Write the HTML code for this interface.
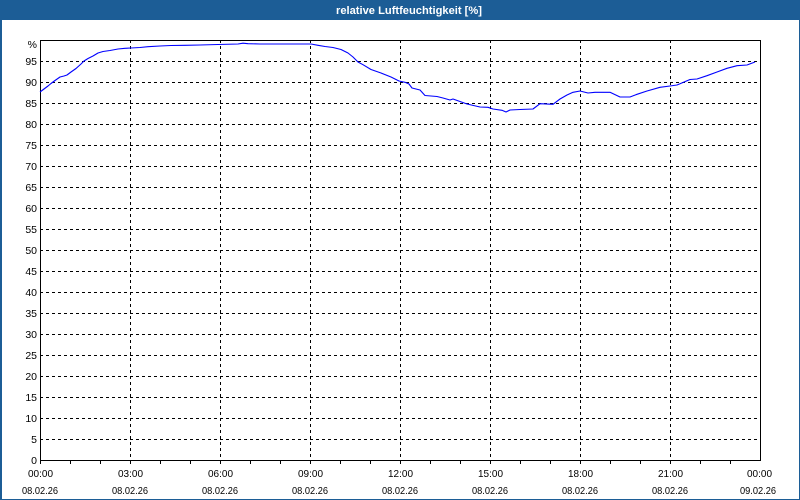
<!DOCTYPE html>
<html>
<head>
<meta charset="utf-8">
<style>
html,body{margin:0;padding:0;background:#fff;}
svg{display:block;}
text{font-family:"Liberation Sans",Tahoma,sans-serif;fill:#000;}
</style>
</head>
<body>
<svg width="800" height="500" viewBox="0 0 800 500" xmlns="http://www.w3.org/2000/svg">
  <rect x="0" y="0" width="800" height="500" fill="#ffffff"/>
  <!-- title bar -->
  <rect x="0" y="0" width="800" height="20" fill="#1c5d96"/>
  <text x="336" y="14" font-size="11" font-weight="bold" style="fill:#fff" textLength="146" lengthAdjust="spacingAndGlyphs">relative Luftfeuchtigkeit [%]</text>
  <!-- outer border -->
  <rect x="0" y="20" width="2" height="480" fill="#1c5d96"/>
  <rect x="799" y="20" width="1" height="480" fill="#1c5d96"/>
  <rect x="0" y="499" width="800" height="1" fill="#1c5d96"/>

  <!-- grid -->
  <g stroke="#000" stroke-width="1" stroke-dasharray="3,3" shape-rendering="crispEdges" fill="none">
    <line x1="40" x2="760" y1="61.5" y2="61.5"/>
    <line x1="40" x2="760" y1="82.5" y2="82.5"/>
    <line x1="40" x2="760" y1="103.5" y2="103.5"/>
    <line x1="40" x2="760" y1="124.5" y2="124.5"/>
    <line x1="40" x2="760" y1="145.5" y2="145.5"/>
    <line x1="40" x2="760" y1="166.5" y2="166.5"/>
    <line x1="40" x2="760" y1="187.5" y2="187.5"/>
    <line x1="40" x2="760" y1="208.5" y2="208.5"/>
    <line x1="40" x2="760" y1="229.5" y2="229.5"/>
    <line x1="40" x2="760" y1="250.5" y2="250.5"/>
    <line x1="40" x2="760" y1="271.5" y2="271.5"/>
    <line x1="40" x2="760" y1="292.5" y2="292.5"/>
    <line x1="40" x2="760" y1="313.5" y2="313.5"/>
    <line x1="40" x2="760" y1="334.5" y2="334.5"/>
    <line x1="40" x2="760" y1="355.5" y2="355.5"/>
    <line x1="40" x2="760" y1="376.5" y2="376.5"/>
    <line x1="40" x2="760" y1="397.5" y2="397.5"/>
    <line x1="40" x2="760" y1="418.5" y2="418.5"/>
    <line x1="40" x2="760" y1="439.5" y2="439.5"/>
    <line x1="130.5" x2="130.5" y1="40" y2="460"/>
    <line x1="220.5" x2="220.5" y1="40" y2="460"/>
    <line x1="310.5" x2="310.5" y1="40" y2="460"/>
    <line x1="400.5" x2="400.5" y1="40" y2="460"/>
    <line x1="490.5" x2="490.5" y1="40" y2="460"/>
    <line x1="580.5" x2="580.5" y1="40" y2="460"/>
    <line x1="670.5" x2="670.5" y1="40" y2="460"/>
  </g>

  <!-- frame -->
  <rect x="40.5" y="40.5" width="720" height="420" fill="none" stroke="#000" stroke-width="1" shape-rendering="crispEdges"/>

  <!-- ticks -->
  <g stroke="#000" stroke-width="1" shape-rendering="crispEdges">
    <line x1="40.5" x2="40.5" y1="460" y2="464"/>
    <line x1="70.5" x2="70.5" y1="460" y2="464"/>
    <line x1="100.5" x2="100.5" y1="460" y2="464"/>
    <line x1="130.5" x2="130.5" y1="460" y2="464"/>
    <line x1="160.5" x2="160.5" y1="460" y2="464"/>
    <line x1="190.5" x2="190.5" y1="460" y2="464"/>
    <line x1="220.5" x2="220.5" y1="460" y2="464"/>
    <line x1="250.5" x2="250.5" y1="460" y2="464"/>
    <line x1="280.5" x2="280.5" y1="460" y2="464"/>
    <line x1="310.5" x2="310.5" y1="460" y2="464"/>
    <line x1="340.5" x2="340.5" y1="460" y2="464"/>
    <line x1="370.5" x2="370.5" y1="460" y2="464"/>
    <line x1="400.5" x2="400.5" y1="460" y2="464"/>
    <line x1="430.5" x2="430.5" y1="460" y2="464"/>
    <line x1="460.5" x2="460.5" y1="460" y2="464"/>
    <line x1="490.5" x2="490.5" y1="460" y2="464"/>
    <line x1="520.5" x2="520.5" y1="460" y2="464"/>
    <line x1="550.5" x2="550.5" y1="460" y2="464"/>
    <line x1="580.5" x2="580.5" y1="460" y2="464"/>
    <line x1="610.5" x2="610.5" y1="460" y2="464"/>
    <line x1="640.5" x2="640.5" y1="460" y2="464"/>
    <line x1="670.5" x2="670.5" y1="460" y2="464"/>
    <line x1="700.5" x2="700.5" y1="460" y2="464"/>
    <line x1="730.5" x2="730.5" y1="460" y2="464"/>
  </g>

  <!-- y labels -->
  <g font-size="10.5" text-anchor="end">
    <text x="37" y="48">%</text>
    <text x="37" y="65">95</text>
    <text x="37" y="86">90</text>
    <text x="37" y="107">85</text>
    <text x="37" y="128">80</text>
    <text x="37" y="149">75</text>
    <text x="37" y="170">70</text>
    <text x="37" y="191">65</text>
    <text x="37" y="212">60</text>
    <text x="37" y="233">55</text>
    <text x="37" y="254">50</text>
    <text x="37" y="275">45</text>
    <text x="37" y="296">40</text>
    <text x="37" y="317">35</text>
    <text x="37" y="338">30</text>
    <text x="37" y="359">25</text>
    <text x="37" y="380">20</text>
    <text x="37" y="401">15</text>
    <text x="37" y="422">10</text>
    <text x="37" y="443">5</text>
    <text x="37" y="464">0</text>
  </g>

  <!-- x labels -->
  <g font-size="10.5">
    <text x="28" y="477" textLength="25" lengthAdjust="spacingAndGlyphs">00:00</text>
    <text x="22" y="494" textLength="36" lengthAdjust="spacingAndGlyphs">08.02.26</text>
    <text x="118" y="477" textLength="25" lengthAdjust="spacingAndGlyphs">03:00</text>
    <text x="112" y="494" textLength="36" lengthAdjust="spacingAndGlyphs">08.02.26</text>
    <text x="208" y="477" textLength="25" lengthAdjust="spacingAndGlyphs">06:00</text>
    <text x="202" y="494" textLength="36" lengthAdjust="spacingAndGlyphs">08.02.26</text>
    <text x="298" y="477" textLength="25" lengthAdjust="spacingAndGlyphs">09:00</text>
    <text x="292" y="494" textLength="36" lengthAdjust="spacingAndGlyphs">08.02.26</text>
    <text x="388" y="477" textLength="25" lengthAdjust="spacingAndGlyphs">12:00</text>
    <text x="382" y="494" textLength="36" lengthAdjust="spacingAndGlyphs">08.02.26</text>
    <text x="478" y="477" textLength="25" lengthAdjust="spacingAndGlyphs">15:00</text>
    <text x="472" y="494" textLength="36" lengthAdjust="spacingAndGlyphs">08.02.26</text>
    <text x="568" y="477" textLength="25" lengthAdjust="spacingAndGlyphs">18:00</text>
    <text x="562" y="494" textLength="36" lengthAdjust="spacingAndGlyphs">08.02.26</text>
    <text x="658" y="477" textLength="25" lengthAdjust="spacingAndGlyphs">21:00</text>
    <text x="652" y="494" textLength="36" lengthAdjust="spacingAndGlyphs">08.02.26</text>
    <text x="747" y="477" textLength="25" lengthAdjust="spacingAndGlyphs">00:00</text>
    <text x="740" y="494" textLength="36" lengthAdjust="spacingAndGlyphs">09.02.26</text>
  </g>

  <!-- data series -->
  <polyline fill="none" stroke="#0000ff" stroke-width="1.1" stroke-linejoin="round"
    points="40,92 44,89 48,86 51,83.5 55,80.5 60,77 64,76 67,75 71,72 76,68.5 81,64 84,61 88,58.5 93,56 98,53 103,51.5 110,50.5 118,49 125,48.3 131,48 140,47.5 148,46.7 160,46 171,45.5 185,45.3 200,45 218,44.5 238,44 243,43.2 248,43.7 260,44 311,44 318,45.3 325,46.5 333,47.5 341,49.5 348,53 353,57 358,62 363,64.7 371,69.5 381,73 391,77 399,81 405,82.3 409,84 412,88 420,90 425,95.5 437,96.5 443,98 450,100 453,99 460,101.5 467,104 480,107 488,107.3 493,109 502,110.3 506,112 510,110 520,109.5 533,109 540,103.7 553,104.3 560,99 567,95 573,92.3 580,91 588,93 595,92.3 610,92.3 620,97 630,97 637,94.3 647,91 660,87.3 670,86 677,85 680,83.7 690,79.5 697,79 707,75.7 717,72 727,68.3 737,65.7 747,65 755,62"/>
</svg>
</body>
</html>
